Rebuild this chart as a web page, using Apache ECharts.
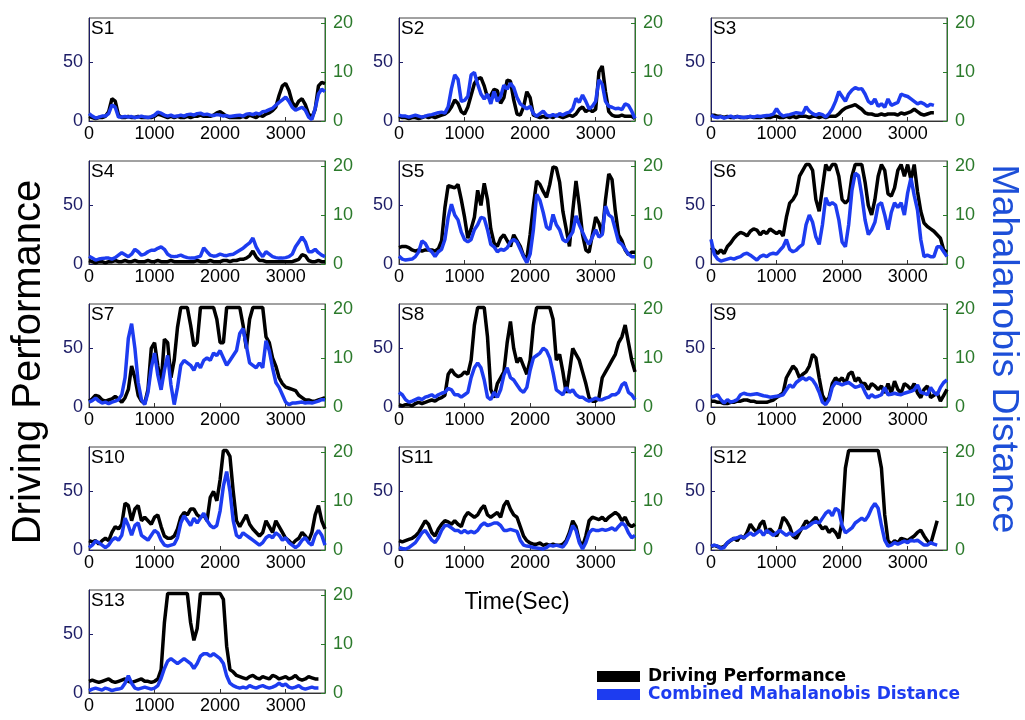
<!DOCTYPE html>
<html><head><meta charset="utf-8">
<script src="https://cdn.jsdelivr.net/npm/echarts@6/dist/echarts.min.js"></script>
<style>html,body{margin:0;padding:0;background:#fff}#c{width:1025px;height:720px}</style>
</head><body><div id="c"></div>
<script>
const timeSec = [0,50,100,150,200,250,300,350,400,450,500,550,600,650,700,750,800,850,900,950,1000,1050,1100,1150,1200,1250,1300,1350,1400,1450,1500,1550,1600,1650,1700,1750,1800,1850,1900,1950,2000,2050,2100,2150,2200,2250,2300,2350,2400,2450,2500,2550,2600,2650,2700,2750,2800,2850,2900,2950,3000,3050,3100,3150,3200,3250,3300,3350,3400,3450,3500,3550,3600];
const xTicks = [0,1000,2000,3000];
const leftTicks = [0,50];
const rightTicks = [0,10,20];
const panelNames = ['S1','S2','S3','S4','S5','S6','S7','S8','S9','S10','S11','S12','S13'];

const dp1 = [4,3,2,3,3,4,8,19,17,5, 3,3,4,3,3,4,3,3,3,3, 4,6,5,4,3,4,3,4,3,3, 4,3,4,4,5,4,4,4,5,7, 8,6,4,3,3,3,3,4,3,5, 4,3,5,4,6,7,9,12,22,30, 32,26,16,12,17,19,14,6,3,10, 30,33,32];
const md1 = [1.5,1.0,0.6,0.8,1.0,1.0,1.5,3.3,2.8,0.8, 0.8,0.9,0.8,0.9,0.7,0.8,1.0,0.8,0.7,0.9, 1.2,1.8,1.6,1.2,1.0,1.2,0.9,1.0,1.2,1.0, 1.3,1.4,1.2,1.5,1.6,1.3,1.4,1.2,1.1,1.3, 1.2,1.0,1.1,0.9,1.0,1.1,1.2,1.0,1.4,1.5, 1.3,1.6,1.4,1.9,2.0,2.3,2.6,3.2,3.8,4.3, 4.9,4.0,2.8,2.2,2.5,2.8,2.2,0.8,0.3,2.5, 5.5,6.5,6.0];
const dp2 = [4,3,3,2,3,3,2,3,4,3, 4,3,4,5,6,8,12,18,15,8, 6,12,22,32,36,37,30,20,22,27, 26,15,20,35,34,18,6,5,12,25, 20,5,4,3,4,3,4,3,5,4, 3,4,5,4,6,10,12,8,10,8, 10,42,47,25,8,5,4,4,5,4, 4,4,2];
const md2 = [1.2,1.0,1.0,0.8,1.0,1.2,1.0,0.8,1.0,1.2, 1.3,1.5,1.7,1.8,1.6,2.9,6.6,9.4,8.5,4.0, 4.2,5.0,9.4,9.9,7.5,5.5,4.5,5.5,3.5,6.0, 4.0,5.0,7.3,6.5,7.7,6.8,4.8,3.5,3.0,2.5, 3.0,1.5,1.0,1.5,2.0,1.2,1.0,1.3,1.0,1.5, 1.2,1.6,1.8,2.5,4.6,3.8,5.3,4.0,2.5,3.0, 4.0,8.4,7.5,4.0,3.0,2.8,2.5,2.6,2.3,3.5, 3.2,2.0,0.5];
const dp3 = [5,5,4,4,3,4,3,3,4,3, 3,3,4,3,3,3,4,3,3,4, 4,3,3,4,3,4,3,4,4,4, 3,4,4,3,4,3,4,4,4,6, 9,11,12,13,14,12,10,7,6,6, 5,5,6,5,6,6,6,5,7,6, 7,8,10,8,6,5,6,7,7,null, null,null,null];
const md3 = [1.2,0.8,0.7,0.9,0.6,0.8,1.0,0.7,0.9,0.8, 0.7,0.8,0.9,0.8,1.0,0.9,1.0,1.1,1.2,1.4, 2.5,1.5,1.0,1.2,1.3,1.5,1.7,1.6,1.5,2.9, 2.0,1.5,1.2,1.5,1.3,0.8,1.5,2.5,4.0,6.0, 5.0,4.0,5.5,6.3,6.8,6.5,6.6,5.5,4.0,3.5, 4.5,3.0,3.5,2.8,4.5,3.2,3.5,3.8,5.5,5.2, 5.0,4.5,4.0,3.5,3.8,3.5,3.0,3.4,3.2,null, null,null,null];
const dp4 = [3,2,1,2,2,1,2,2,3,2, 2,3,2,2,3,2,2,2,3,2, 2,3,2,2,2,3,2,2,2,2, 2,2,2,3,2,2,2,3,2,2, 2,3,3,2,3,3,4,4,5,7, 11,6,3,3,2,2,2,2,2,2, 2,2,2,3,4,8,7,3,2,2, 3,2,2];
const md4 = [1.6,1.2,0.8,1.0,1.1,1.2,1.2,1.0,1.3,1.8, 2.3,1.9,1.5,2.0,3.0,2.5,1.8,2.0,2.5,2.8, 2.8,3.2,3.5,3.0,2.0,1.6,1.5,1.6,1.8,1.5, 1.3,1.2,1.2,1.4,1.6,3.3,2.5,1.8,1.6,1.7, 2.0,1.8,1.7,1.9,2.0,2.4,2.8,3.2,3.8,4.3, 5.3,3.5,2.3,1.5,2.5,2.0,1.5,1.3,1.2,1.2, 1.3,1.5,2.0,3.5,4.5,5.5,4.5,2.5,2.5,3.0, 2.3,1.8,1.5];
const dp5 = [14,15,15,14,12,11,12,11,12,12, 12,11,13,20,48,67,66,65,68,55, 40,22,30,40,63,50,69,55,30,18, 15,22,25,20,15,25,20,15,7,5, 25,50,71,68,62,57,68,83,82,70, 45,30,15,45,71,50,25,12,10,25, 40,35,25,55,77,72,45,25,20,12, 8,10,10];
const md5 = [1.6,1.0,0.8,0.9,1.0,1.5,2.5,4.7,4.2,3.0, 2.5,1.5,2.5,3.0,5.0,9.5,12.2,10.0,9.0,6.5, 5.0,4.5,5.0,7.0,8.0,9.5,9.3,7.0,4.0,3.5, 2.5,3.0,2.8,3.3,4.5,5.0,4.5,3.0,1.5,0.3, 2.0,7.0,14.2,13.0,10.5,7.5,7.0,10.1,8.0,7.0, 5.0,4.5,5.5,6.5,9.8,8.0,6.5,5.0,4.0,5.5, 7.0,5.5,6.0,11.8,10.0,9.5,7.0,4.5,4.0,3.0, 2.0,1.5,1.5];
const dp6 = [14,12,9,12,9,15,18,22,25,27, 26,24,28,30,29,25,28,26,30,28, 26,28,24,40,52,55,60,75,80,85, 85,80,55,45,65,85,80,85,85,75, 55,52,55,75,85,85,85,70,50,42, 55,75,85,80,60,58,65,80,85,75, 85,72,85,62,45,35,32,30,28,25, 22,12,10];
const md6 = [5.0,2.0,1.0,0.6,0.8,1.0,1.2,1.0,1.3,1.5, 2.0,2.2,1.8,1.3,0.8,1.5,1.8,1.5,2.0,2.2, 2.0,2.8,3.5,5.0,3.0,2.5,2.8,3.5,4.0,8.0, 10.0,8.5,5.5,4.0,8.0,13.5,12.0,12.5,12.0,9.0, 4.5,3.5,8.0,15.0,18.5,18.0,14.0,9.0,6.0,7.0, 8.5,12.0,12.5,10.0,7.0,10.5,12.5,11.5,12.5,10.0, 14.5,17.5,14.0,11.0,5.0,1.5,1.8,1.5,1.5,3.5, 3.5,2.5,1.5];
const dp7 = [5,7,10,9,6,5,6,7,9,7, 4,8,15,35,25,10,5,3,15,50, 55,35,20,58,55,25,40,68,85,85, 85,70,52,55,85,85,85,85,85,75, 55,55,85,85,85,85,85,70,50,75, 85,85,85,85,60,55,42,35,25,20, 17,16,15,14,10,8,6,6,5,5, 6,7,8];
const md7 = [1.0,1.3,1.8,1.2,0.8,1.0,0.7,1.0,1.2,1.5, 2.5,6.0,14.0,17.0,12.0,5.0,1.5,0.5,3.0,8.0, 11.0,6.5,3.5,7.5,10.5,4.5,0.5,4.0,8.5,9.5, 9.0,8.5,7.5,9.0,8.0,9.5,10.0,9.5,11.0,10.5, 11.5,10.0,8.5,9.5,10.5,11.5,15.0,16.0,12.5,9.0, 8.5,8.0,9.0,8.0,13.5,11.5,8.0,5.0,4.0,2.5, 1.0,0.5,0.8,0.8,0.9,1.0,0.8,0.9,0.8,1.0, 1.2,1.5,1.5];
const dp8 = [2,1,2,2,1,3,4,3,4,5, 6,5,7,8,10,28,32,28,26,27, 30,28,40,70,85,85,85,60,15,8, 20,25,30,55,73,50,38,42,35,28, 40,70,85,85,85,85,85,75,40,45, 30,12,30,50,45,40,30,20,8,5, 5,8,25,30,35,40,45,55,60,70, 55,40,30];
const md8 = [3.0,2.5,1.5,1.0,1.2,1.5,1.8,1.5,2.0,2.2, 2.5,2.0,2.5,2.8,3.0,3.8,3.5,2.5,2.5,2.0, 2.5,3.0,6.0,8.0,9.0,8.0,5.5,2.0,1.5,3.0, 2.0,3.5,6.5,8.0,6.0,5.5,4.5,3.5,3.0,4.0, 7.5,10.0,10.5,11.0,12.0,11.5,10.0,7.0,3.5,3.0, 2.5,4.0,3.0,3.5,2.5,2.0,2.0,1.5,1.2,1.5, 1.8,1.5,1.5,1.8,2.0,2.5,2.5,3.0,4.5,5.0, 3.0,2.5,1.5];
const dp9 = [5,5,4,4,3,3,4,4,5,5, 6,6,5,5,4,4,4,4,5,6, 8,10,12,25,30,35,32,25,28,30, 35,45,42,25,10,5,8,20,25,22, 25,20,28,30,22,25,20,20,15,20, 18,15,18,12,20,12,22,15,12,20, 18,15,20,12,8,15,18,8,10,12, 5,10,15];
const md9 = [2.0,2.2,2.5,1.5,0.8,1.5,1.0,1.2,1.5,2.5, 2.8,2.6,2.5,2.6,2.7,2.5,2.3,2.2,2.0,2.1, 2.2,2.3,2.5,3.5,4.5,4.0,5.0,5.5,6.0,5.5, 6.0,5.5,4.5,3.0,1.0,0.5,1.5,4.0,5.0,4.8, 4.5,4.8,5.0,4.5,4.0,4.2,4.5,3.0,1.8,2.5, 2.0,2.2,2.5,4.0,2.5,2.6,2.8,2.6,2.5,2.8, 3.0,3.2,3.5,4.5,3.0,2.8,2.5,4.0,3.0,2.5, 4.0,5.0,5.5];
const dp10 = [8,7,8,5,8,10,8,15,20,18, 22,40,38,25,35,38,25,28,25,22, 28,30,20,12,10,10,12,18,28,32, 30,35,35,30,28,30,25,45,50,42, 60,85,85,80,50,25,20,25,30,22, 18,15,12,15,25,20,15,25,20,15, 10,8,5,8,10,15,12,8,15,30, 38,25,18];
const md10 = [0.5,1.0,1.8,1.5,1.0,0.5,1.0,2.0,2.5,2.0, 3.0,6.5,5.0,3.0,5.0,5.5,3.0,2.5,2.0,3.0, 4.0,3.5,2.0,1.0,0.8,1.0,1.2,2.5,5.5,7.0, 6.0,5.0,6.5,5.5,6.5,7.5,6.0,5.0,4.5,5.0, 8.0,13.0,16.0,12.0,6.0,3.0,2.5,3.5,3.0,2.5, 2.0,1.5,1.0,1.5,2.5,3.0,2.5,3.5,3.0,2.0, 2.5,1.5,1.0,0.5,1.0,2.0,2.5,1.5,1.0,3.0, 4.0,3.0,1.0];
const dp11 = [8,7,8,9,10,12,15,20,25,22, 15,12,18,22,25,24,22,25,22,20, 28,32,30,28,30,35,38,30,28,30, 32,28,38,42,35,30,28,20,12,8, 6,5,5,6,4,5,4,5,4,4, 5,8,15,25,20,8,3,12,25,28, 27,26,28,25,28,30,32,30,25,28, 22,20,22];
const md11 = [0.5,0.3,0.2,0.5,1.0,1.5,2.5,3.5,4.0,3.0, 2.0,1.5,2.5,4.0,5.0,5.0,4.5,4.0,4.0,3.5, 4.0,3.5,3.8,3.5,4.0,5.0,5.5,5.0,5.2,5.5, 5.5,5.0,4.0,4.0,4.2,4.0,3.8,2.0,1.0,0.8, 0.7,0.5,0.4,0.3,0.2,0.5,1.0,0.8,1.0,0.8, 0.6,1.5,3.0,5.0,4.0,1.5,0.2,1.5,3.5,4.2, 4.0,4.0,4.2,4.0,4.2,4.5,4.0,4.8,5.5,5.0, 3.5,2.5,3.0];
const dp12 = [3,4,3,2,3,6,8,10,8,12, 10,15,22,18,15,22,25,15,18,15, 12,18,28,25,20,12,10,15,20,25, 22,25,28,22,18,20,15,18,15,10, 25,70,85,85,85,85,85,85,85,85, 85,85,70,30,8,5,8,6,10,9, 8,10,12,15,17,12,8,5,15,25, null,null,null];
const md12 = [0.8,1.0,0.8,0.3,0.5,1.5,2.0,2.3,2.5,2.8, 2.5,3.0,3.5,3.0,3.5,4.0,3.0,4.0,3.5,3.0, 3.5,4.0,3.5,3.0,3.5,3.0,3.5,4.0,4.5,4.5, 5.0,5.5,5.8,5.5,6.5,7.5,8.0,7.0,8.5,8.0, 5.0,3.5,4.0,4.5,5.5,6.0,6.5,6.0,7.0,8.5, 9.5,8.5,5.0,2.0,0.8,1.0,1.5,1.2,1.5,1.8, 1.5,2.0,1.8,2.0,1.5,1.0,1.0,1.5,1.2,1.0, null,null,null];
const dp13 = [10,11,10,9,10,11,12,10,9,10, 11,12,10,9,10,11,12,10,10,9, 10,12,20,60,85,85,85,85,85,85, 85,60,45,55,85,85,85,85,85,85, 85,80,40,20,18,15,14,13,12,14, 15,13,12,14,13,12,15,14,12,13, 14,12,13,15,12,11,12,14,13,12, 12,null,null];
const md13 = [0.5,0.8,1.0,0.8,0.6,1.0,0.8,0.5,0.7,0.8, 1.0,2.0,3.5,2.0,1.0,0.8,1.0,1.2,1.0,0.8, 1.0,1.5,3.0,5.0,6.5,7.0,6.5,6.0,6.5,7.0, 6.5,6.0,5.0,6.0,7.5,8.0,8.0,7.5,8.0,7.5, 7.0,6.0,3.5,2.0,1.5,1.2,1.0,1.2,1.0,1.5, 1.2,1.0,1.3,1.5,1.2,1.0,1.2,1.5,2.0,1.5, 1.8,1.2,1.0,1.2,1.5,1.0,0.8,1.0,1.2,1.0, 1.0,null,null];

const dpAll = [dp1,dp2,dp3,dp4,dp5,dp6,dp7,dp8,dp9,dp10,dp11,dp12,dp13];
const mdAll = [md1,md2,md3,md4,md5,md6,md7,md8,md9,md10,md11,md12,md13];

const FONT = "'Liberation Sans', Arial, sans-serif";
const colLeft = [89, 399, 711];
const rowTop = [18, 161, 304, 447, 590];
const W = 236, H = 103;
const navy = '#1c1c66', green = '#2b7a2b', blackLine = '#000000', blueLine = '#1d3cf0';

const grids = [], xAxes = [], yAxes = [], series = [], titles = [];
panelNames.forEach((name, i) => {
  const r = Math.floor(i / 3), c = i % 3;
  grids.push({left: colLeft[c], top: rowTop[r], width: W, height: H, show: true, borderColor: '#444', borderWidth: 1, backgroundColor: '#fff'});
  titles.push({text: name, left: colLeft[c] + 2, top: rowTop[r] + 1, padding: 0, textStyle: {fontFamily: FONT, fontSize: 19, fontWeight: 'normal', color: '#000'}});
  xAxes.push({gridIndex: i, type: 'value', min: 0, max: 3600, interval: 1000,
    axisLine: {onZero: false, lineStyle: {color: '#333', width: 1}},
    axisTick: {inside: true, length: 4, lineStyle: {color: '#333'}},
    axisLabel: {showMaxLabel: false, color: '#000', fontSize: 18, fontFamily: FONT, margin: 4,
      formatter: v => xTicks.indexOf(v) >= 0 ? String(v) : ''},
    splitLine: {show: false}});
  yAxes.push({gridIndex: i, type: 'value', min: 0, max: 88, interval: 50, position: 'left',
    axisLine: {show: true, lineStyle: {color: navy, width: 1}},
    axisTick: {show: true, inside: true, length: 4, lineStyle: {color: navy}},
    axisLabel: {showMaxLabel: false, color: navy, fontSize: 18, fontFamily: FONT, margin: 6,
      formatter: v => leftTicks.indexOf(v) >= 0 ? String(v) : ''},
    splitLine: {show: false}});
  yAxes.push({gridIndex: i, type: 'value', min: 0, max: 21, interval: 10, position: 'right',
    axisLine: {show: true, lineStyle: {color: green, width: 1}},
    axisTick: {show: true, inside: true, length: 4, lineStyle: {color: green}},
    axisLabel: {showMaxLabel: false, color: green, fontSize: 18, fontFamily: FONT, margin: 8,
      formatter: v => rightTicks.indexOf(v) >= 0 ? String(v) : ''},
    splitLine: {show: false}});
  series.push({name: 'Driving Performance', type: 'line', xAxisIndex: i, yAxisIndex: 2 * i,
    data: timeSec.map((t, k) => [t, dpAll[i][k]]), showSymbol: false, symbol: 'none',
    lineStyle: {color: blackLine, width: 3.5}, itemStyle: {color: blackLine}, connectNulls: false, z: 2});
  series.push({name: 'Combined Mahalanobis Distance', type: 'line', xAxisIndex: i, yAxisIndex: 2 * i + 1,
    data: timeSec.map((t, k) => [t, mdAll[i][k]]), showSymbol: false, symbol: 'none',
    lineStyle: {color: blueLine, width: 3.5}, itemStyle: {color: blueLine}, connectNulls: false, z: 3});
});

const chart = echarts.init(document.getElementById('c'), null, {renderer: 'canvas'});
chart.setOption({
  animation: false,
  backgroundColor: '#fff',
  title: titles,
  grid: grids, xAxis: xAxes, yAxis: yAxes, series: series,
  legend: {
    orient: 'vertical', left: 597, top: 668, itemWidth: 43, itemHeight: 11, itemGap: 1,
    icon: 'rect', selectedMode: false, padding: 0,
    textStyle: {fontFamily: "'DejaVu Sans', sans-serif", fontSize: 17, fontWeight: 'bold', padding: [0, 0, 0, 3]},
    data: [
      {name: 'Driving Performance', textStyle: {color: '#000'}},
      {name: 'Combined Mahalanobis Distance', textStyle: {color: '#1d3cf0'}}
    ]
  },
  graphic: [
    {type: 'text', x: 29, y: 362, rotation: Math.PI / 2,
      style: {text: 'Driving Performance', font: "40px 'Liberation Sans', Arial", fill: '#000', align: 'center', verticalAlign: 'middle'}},
    {type: 'text', x: 1003, y: 349, rotation: -Math.PI / 2,
      style: {text: 'Mahalanobis Distance', font: "37.5px 'Liberation Sans', Arial", fill: '#1d4fd8', align: 'center', verticalAlign: 'middle'}},
    {type: 'text', x: 517, y: 603,
      style: {text: 'Time(Sec)', font: "23px 'Liberation Sans', Arial", fill: '#000', align: 'center', verticalAlign: 'middle'}}
  ]
});
</script>
</body></html>
